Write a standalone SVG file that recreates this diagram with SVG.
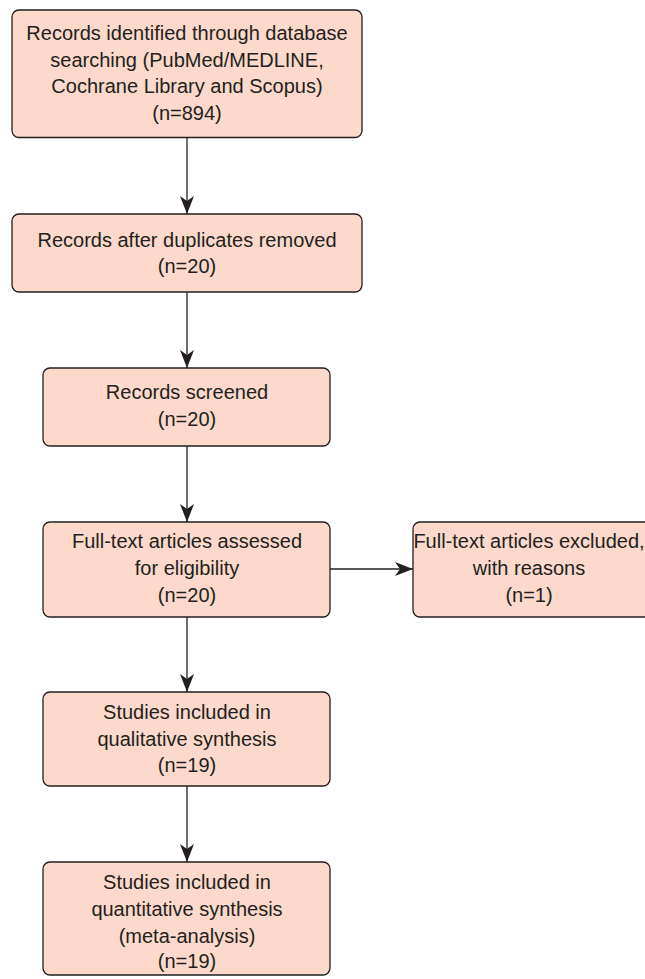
<svg xmlns="http://www.w3.org/2000/svg" width="645" height="979" viewBox="0 0 645 979">
<defs>
<style>
.box{fill:#FCD9CA;stroke:#231F20;stroke-width:1.3}
.t{font-family:"Liberation Sans",Arial,sans-serif;font-size:20px;fill:#231F20;text-anchor:middle}
.c{stroke:#231F20;stroke-width:1.3;fill:none;marker-end:url(#ah)}
</style>
<marker id="ah" markerUnits="userSpaceOnUse" viewBox="0 0 18 14" refX="18" refY="7" markerWidth="18" markerHeight="14" orient="auto">
<path d="M0,0 L18,7 L0,14 L5,7 Z" fill="#231F20"/>
</marker>
</defs>
<rect width="645" height="979" fill="#ffffff"/>
<g id="n1">
<rect class="box" x="12" y="10" width="350" height="127.5" rx="7"/>
<text class="t" x="187" y="40">Records identified through database</text>
<text class="t" x="187" y="67">searching (PubMed/MEDLINE,</text>
<text class="t" x="187" y="93">Cochrane Library and Scopus)</text>
<text class="t" x="187" y="120">(n=894)</text>
</g>
<g id="n2">
<rect class="box" x="12" y="214" width="350" height="78" rx="7"/>
<text class="t" x="187" y="247">Records after duplicates removed</text>
<text class="t" x="187" y="273">(n=20)</text>
</g>
<g id="n3">
<rect class="box" x="43" y="368" width="287" height="78" rx="7"/>
<text class="t" x="187" y="399">Records screened</text>
<text class="t" x="187" y="426">(n=20)</text>
</g>
<g id="n4">
<rect class="box" x="43" y="522" width="287" height="95" rx="7"/>
<text class="t" x="187" y="548">Full-text articles assessed</text>
<text class="t" x="187" y="575">for eligibility</text>
<text class="t" x="187" y="602">(n=20)</text>
</g>
<g id="n5">
<rect class="box" x="413" y="522" width="240" height="95" rx="7"/>
<text class="t" x="529" y="548">Full-text articles excluded,</text>
<text class="t" x="529" y="575">with reasons</text>
<text class="t" x="529" y="602">(n=1)</text>
</g>
<g id="n6">
<rect class="box" x="43" y="692" width="287" height="94" rx="7"/>
<text class="t" x="187" y="719">Studies included in</text>
<text class="t" x="187" y="746">qualitative synthesis</text>
<text class="t" x="187" y="772">(n=19)</text>
</g>
<g id="n7">
<rect class="box" x="43" y="862" width="287" height="113" rx="7"/>
<text class="t" x="187" y="889">Studies included in</text>
<text class="t" x="187" y="916">quantitative synthesis</text>
<text class="t" x="187" y="943">(meta-analysis)</text>
<text class="t" x="187" y="968">(n=19)</text>
</g>
<g id="connectors">
<line class="c" x1="187" y1="137.5" x2="187" y2="214"/>
<line class="c" x1="187" y1="292" x2="187" y2="368"/>
<line class="c" x1="187" y1="446" x2="187" y2="522"/>
<line class="c" x1="330" y1="569" x2="413" y2="569"/>
<line class="c" x1="187" y1="617" x2="187" y2="692"/>
<line class="c" x1="187" y1="786" x2="187" y2="862"/>
</g>
</svg>
